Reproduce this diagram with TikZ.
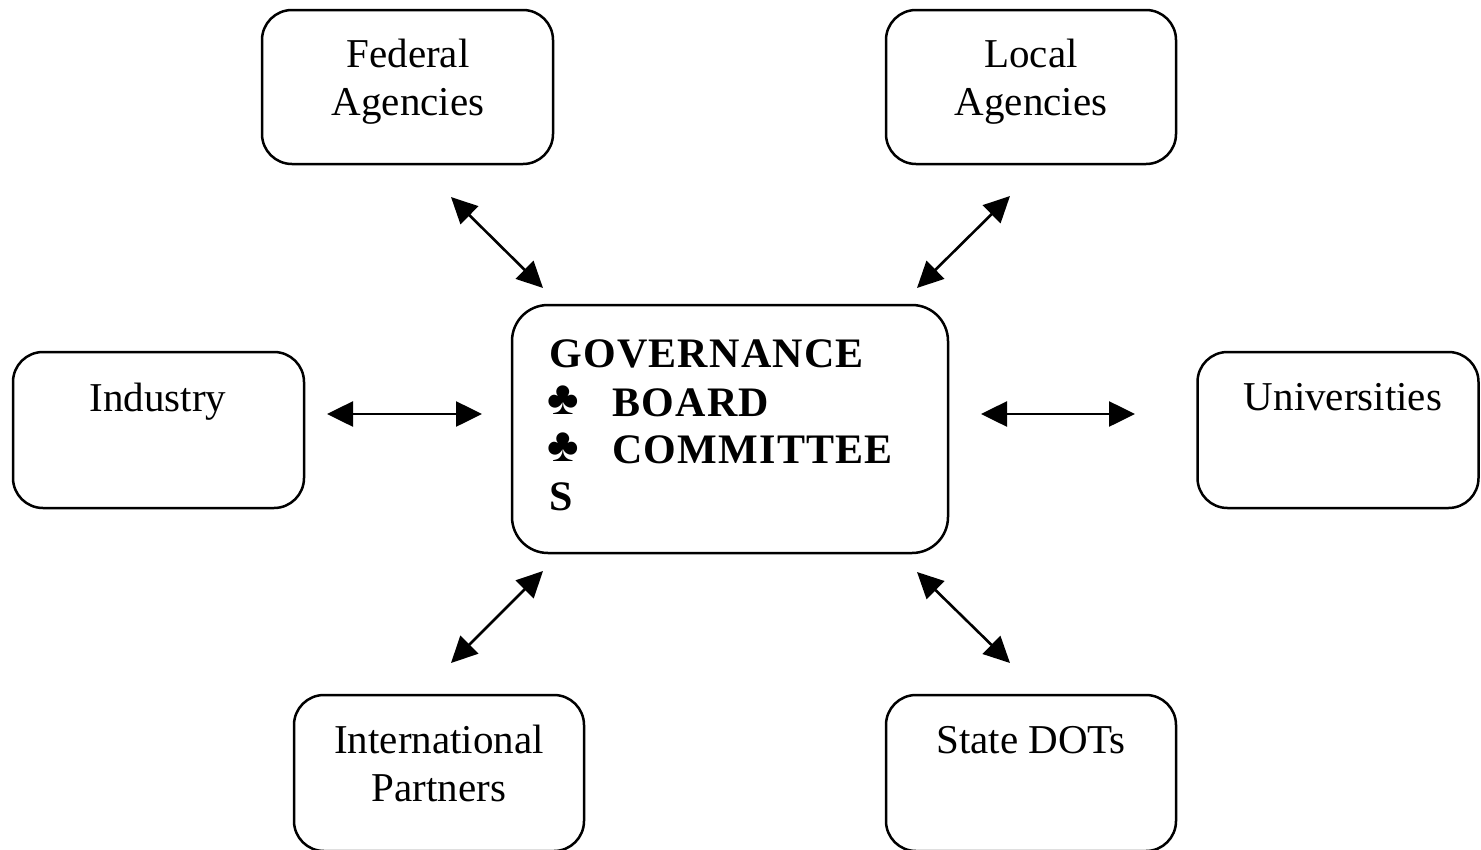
\documentclass[tikz,border=0pt]{standalone}
\usepackage{fontspec}
\setmainfont{Liberation Serif}
\newfontfamily\govfont[LetterSpace=3.0]{Liberation Serif}
\usetikzlibrary{arrows.meta}
\begin{document}
\begin{tikzpicture}[x=1pt,y=-1pt,
  box/.style={draw=black,line width=2.5pt,rounded corners=30pt,inner sep=0pt,fill=white},
  lbl/.style={anchor=base,inner sep=0pt,font=\fontsize{41}{48}\selectfont},
  gtxt/.style={anchor=base west,inner sep=0pt,font=\govfont\fontsize{42}{48}\selectfont\bfseries},
  club/.style={anchor=base west,inner sep=0pt,font=\fontsize{48}{48}\selectfont\bfseries},
  link/.style={line width=2.6pt,{Triangle[length=26pt,width=25pt]}-{Triangle[length=26pt,width=25pt]}}
]
\useasboundingbox (0,0) rectangle (1481,849);
\clip (0,0) rectangle (1481,849);
\fill[white] (0,0) rectangle (1481,849);
% boxes
\node[box,minimum width=291pt,minimum height=154pt] (fed) at (407.5,87) {};
\node[box,minimum width=290pt,minimum height=154pt] (loc) at (1031,87) {};
\node[box,minimum width=291pt,minimum height=156pt] (ind) at (158.5,430) {};
\node[box,minimum width=281pt,minimum height=156pt] (uni) at (1338,430) {};
\node[box,minimum width=290pt,minimum height=156pt] (intl) at (439,773) {};
\node[box,minimum width=290pt,minimum height=156pt] (dot) at (1031,773) {};
\node[box,rounded corners=36pt,minimum width=436pt,minimum height=248pt] (gov) at (730,429) {};
% labels
\node[lbl] (fedt1) at (408,67) {Federal};
\node[lbl] (fedt2) at (408,115) {Agencies};
\node[lbl] (loct1) at (1031,67) {Local};
\node[lbl] (loct2) at (1031,115) {Agencies};
\node[lbl] (indt) at (158,411) {Industry};
\node[lbl] (unit) at (1343,410) {Universities};
\node[lbl] (intlt1) at (439,753) {International};
\node[lbl] (intlt2) at (439,801) {Partners};
\node[lbl] (dott) at (1031,753) {State DOTs};
% governance text
\node[gtxt] (g1) at (549,367) {GOVERNANCE};
\node[club] (c1) at (547,414) {♣};
\node[gtxt] (g2) at (612,416) {BOARD};
\node[club] (c2) at (547,461) {♣};
\node[gtxt] (g3) at (612,463) {COMMITTEE};
\node[gtxt] (g4) at (549,510) {S};
% arrow end points
\coordinate (a1) at (451,197); \coordinate (b1) at (543,288);
\coordinate (a2) at (1010,196); \coordinate (b2) at (917,288);
\coordinate (a3) at (327,414); \coordinate (b3) at (482,414);
\coordinate (a4) at (981,414); \coordinate (b4) at (1135,414);
\coordinate (a5) at (543,571); \coordinate (b5) at (451,663);
\coordinate (a6) at (917,572); \coordinate (b6) at (1010,663);
\draw[link] (a1) -- (b1);
\draw[link] (a2) -- (b2);
\draw[link] (a3) -- (b3);
\draw[link] (a4) -- (b4);
\draw[link] (a5) -- (b5);
\draw[link] (a6) -- (b6);
\end{tikzpicture}
\end{document}
